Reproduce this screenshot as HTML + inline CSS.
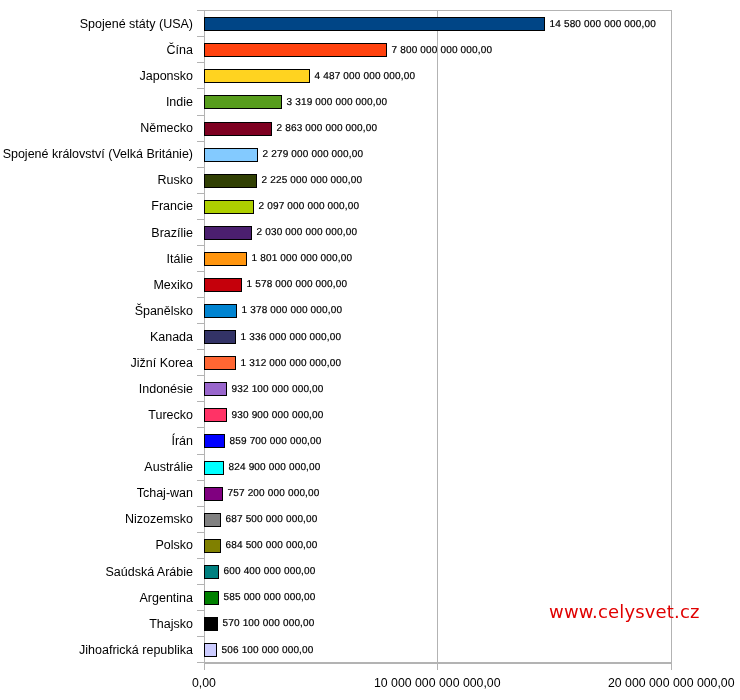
<!DOCTYPE html>
<html lang="cs"><head><meta charset="utf-8"><title>HDP</title>
<style>
html,body{margin:0;padding:0;background:#fff;}
body{width:740px;height:700px;position:relative;overflow:hidden;font-family:"Liberation Sans",Arial,sans-serif;color:#000;}
.ln{position:absolute;background:#b3b3b3;}
.bar{position:absolute;box-sizing:border-box;border:1px solid #000;height:14px;}
.cat{position:absolute;right:547px;font-size:12.5px;line-height:14px;white-space:nowrap;text-align:right;}
.val{position:absolute;font-size:10px;line-height:12px;white-space:nowrap;letter-spacing:0.17px;text-rendering:geometricPrecision;-webkit-text-stroke:0.2px #000;}
.ax{position:absolute;font-size:12.3px;line-height:14px;white-space:nowrap;}
.wm{position:absolute;font-family:"DejaVu Sans",Verdana,sans-serif;color:#e00000;font-size:18px;line-height:22px;white-space:nowrap;letter-spacing:0.17px;}
</style></head><body>

<div class="ln" style="left:204px;top:10px;width:468px;height:1px"></div>
<div class="ln" style="left:204px;top:10px;width:1px;height:652px"></div>
<div class="ln" style="left:437px;top:10px;width:1px;height:660px"></div>
<div class="ln" style="left:671px;top:10px;width:1px;height:660px"></div>
<div class="ln" style="left:204px;top:662px;width:1px;height:8px"></div>
<div class="ln" style="left:204px;top:662px;width:468px;height:2px"></div>
<div class="ln" style="left:197px;top:10px;width:7px;height:1px"></div>
<div class="ln" style="left:197px;top:36px;width:7px;height:1px"></div>
<div class="ln" style="left:197px;top:62px;width:7px;height:1px"></div>
<div class="ln" style="left:197px;top:88px;width:7px;height:1px"></div>
<div class="ln" style="left:197px;top:115px;width:7px;height:1px"></div>
<div class="ln" style="left:197px;top:141px;width:7px;height:1px"></div>
<div class="ln" style="left:197px;top:167px;width:7px;height:1px"></div>
<div class="ln" style="left:197px;top:193px;width:7px;height:1px"></div>
<div class="ln" style="left:197px;top:219px;width:7px;height:1px"></div>
<div class="ln" style="left:197px;top:245px;width:7px;height:1px"></div>
<div class="ln" style="left:197px;top:271px;width:7px;height:1px"></div>
<div class="ln" style="left:197px;top:297px;width:7px;height:1px"></div>
<div class="ln" style="left:197px;top:323px;width:7px;height:1px"></div>
<div class="ln" style="left:197px;top:349px;width:7px;height:1px"></div>
<div class="ln" style="left:197px;top:375px;width:7px;height:1px"></div>
<div class="ln" style="left:197px;top:401px;width:7px;height:1px"></div>
<div class="ln" style="left:197px;top:427px;width:7px;height:1px"></div>
<div class="ln" style="left:197px;top:454px;width:7px;height:1px"></div>
<div class="ln" style="left:197px;top:480px;width:7px;height:1px"></div>
<div class="ln" style="left:197px;top:506px;width:7px;height:1px"></div>
<div class="ln" style="left:197px;top:532px;width:7px;height:1px"></div>
<div class="ln" style="left:197px;top:558px;width:7px;height:1px"></div>
<div class="ln" style="left:197px;top:584px;width:7px;height:1px"></div>
<div class="ln" style="left:197px;top:610px;width:7px;height:1px"></div>
<div class="ln" style="left:197px;top:636px;width:7px;height:1px"></div>
<div class="ln" style="left:197px;top:662px;width:7px;height:1px"></div>
<div class="cat" style="top:17px">Spojené státy (USA)</div>
<div class="bar" style="left:204px;top:17px;width:341px;background:#004586"></div>
<div class="val" style="left:549.5px;top:19px">14 580 000 000 000,00</div>
<div class="cat" style="top:43px">Čína</div>
<div class="bar" style="left:204px;top:43px;width:183px;background:#ff420e"></div>
<div class="val" style="left:391.5px;top:45px">7 800 000 000 000,00</div>
<div class="cat" style="top:69px">Japonsko</div>
<div class="bar" style="left:204px;top:69px;width:106px;background:#ffd320"></div>
<div class="val" style="left:314.5px;top:71px">4 487 000 000 000,00</div>
<div class="cat" style="top:95px">Indie</div>
<div class="bar" style="left:204px;top:95px;width:78px;background:#579d1c"></div>
<div class="val" style="left:286.5px;top:97px">3 319 000 000 000,00</div>
<div class="cat" style="top:121px">Německo</div>
<div class="bar" style="left:204px;top:122px;width:68px;background:#7e0021"></div>
<div class="val" style="left:276.5px;top:123px">2 863 000 000 000,00</div>
<div class="cat" style="top:147px">Spojené království (Velká Británie)</div>
<div class="bar" style="left:204px;top:148px;width:54px;background:#83caff"></div>
<div class="val" style="left:262.5px;top:149px">2 279 000 000 000,00</div>
<div class="cat" style="top:173px">Rusko</div>
<div class="bar" style="left:204px;top:174px;width:53px;background:#314004"></div>
<div class="val" style="left:261.5px;top:175px">2 225 000 000 000,00</div>
<div class="cat" style="top:199px">Francie</div>
<div class="bar" style="left:204px;top:200px;width:50px;background:#aecf00"></div>
<div class="val" style="left:258.5px;top:201px">2 097 000 000 000,00</div>
<div class="cat" style="top:226px">Brazílie</div>
<div class="bar" style="left:204px;top:226px;width:48px;background:#4b1f6f"></div>
<div class="val" style="left:256.5px;top:227px">2 030 000 000 000,00</div>
<div class="cat" style="top:252px">Itálie</div>
<div class="bar" style="left:204px;top:252px;width:43px;background:#ff950e"></div>
<div class="val" style="left:251.5px;top:253px">1 801 000 000 000,00</div>
<div class="cat" style="top:278px">Mexiko</div>
<div class="bar" style="left:204px;top:278px;width:38px;background:#c5000b"></div>
<div class="val" style="left:246.5px;top:279px">1 578 000 000 000,00</div>
<div class="cat" style="top:304px">Španělsko</div>
<div class="bar" style="left:204px;top:304px;width:33px;background:#0084d1"></div>
<div class="val" style="left:241.5px;top:305px">1 378 000 000 000,00</div>
<div class="cat" style="top:330px">Kanada</div>
<div class="bar" style="left:204px;top:330px;width:32px;background:#333366"></div>
<div class="val" style="left:240.5px;top:332px">1 336 000 000 000,00</div>
<div class="cat" style="top:356px">Jižní Korea</div>
<div class="bar" style="left:204px;top:356px;width:32px;background:#ff6633"></div>
<div class="val" style="left:240.5px;top:358px">1 312 000 000 000,00</div>
<div class="cat" style="top:382px">Indonésie</div>
<div class="bar" style="left:204px;top:382px;width:23px;background:#9966cc"></div>
<div class="val" style="left:231.5px;top:384px">932 100 000 000,00</div>
<div class="cat" style="top:408px">Turecko</div>
<div class="bar" style="left:204px;top:408px;width:23px;background:#ff3366"></div>
<div class="val" style="left:231.5px;top:410px">930 900 000 000,00</div>
<div class="cat" style="top:434px">Írán</div>
<div class="bar" style="left:204px;top:434px;width:21px;background:#0000ff"></div>
<div class="val" style="left:229.5px;top:436px">859 700 000 000,00</div>
<div class="cat" style="top:460px">Austrálie</div>
<div class="bar" style="left:204px;top:461px;width:20px;background:#00ffff"></div>
<div class="val" style="left:228.5px;top:462px">824 900 000 000,00</div>
<div class="cat" style="top:486px">Tchaj-wan</div>
<div class="bar" style="left:204px;top:487px;width:19px;background:#800080"></div>
<div class="val" style="left:227.5px;top:488px">757 200 000 000,00</div>
<div class="cat" style="top:512px">Nizozemsko</div>
<div class="bar" style="left:204px;top:513px;width:17px;background:#808080"></div>
<div class="val" style="left:225.5px;top:514px">687 500 000 000,00</div>
<div class="cat" style="top:538px">Polsko</div>
<div class="bar" style="left:204px;top:539px;width:17px;background:#808000"></div>
<div class="val" style="left:225.5px;top:540px">684 500 000 000,00</div>
<div class="cat" style="top:565px">Saúdská Arábie</div>
<div class="bar" style="left:204px;top:565px;width:15px;background:#008080"></div>
<div class="val" style="left:223.5px;top:566px">600 400 000 000,00</div>
<div class="cat" style="top:591px">Argentina</div>
<div class="bar" style="left:204px;top:591px;width:15px;background:#008000"></div>
<div class="val" style="left:223.5px;top:592px">585 000 000 000,00</div>
<div class="cat" style="top:617px">Thajsko</div>
<div class="bar" style="left:204px;top:617px;width:14px;background:#000000"></div>
<div class="val" style="left:222.5px;top:618px">570 100 000 000,00</div>
<div class="cat" style="top:643px">Jihoafrická republika</div>
<div class="bar" style="left:204px;top:643px;width:13px;background:#ccccff"></div>
<div class="val" style="left:221.5px;top:645px">506 100 000 000,00</div>
<div class="ax" style="left:192px;top:676px">0,00</div>
<div class="ax" style="left:374px;top:676px">10 000 000 000 000,00</div>
<div class="ax" style="left:608px;top:676px">20 000 000 000 000,00</div>
<div class="wm" style="left:549px;top:601px">www.celysvet.cz</div>
</body></html>
